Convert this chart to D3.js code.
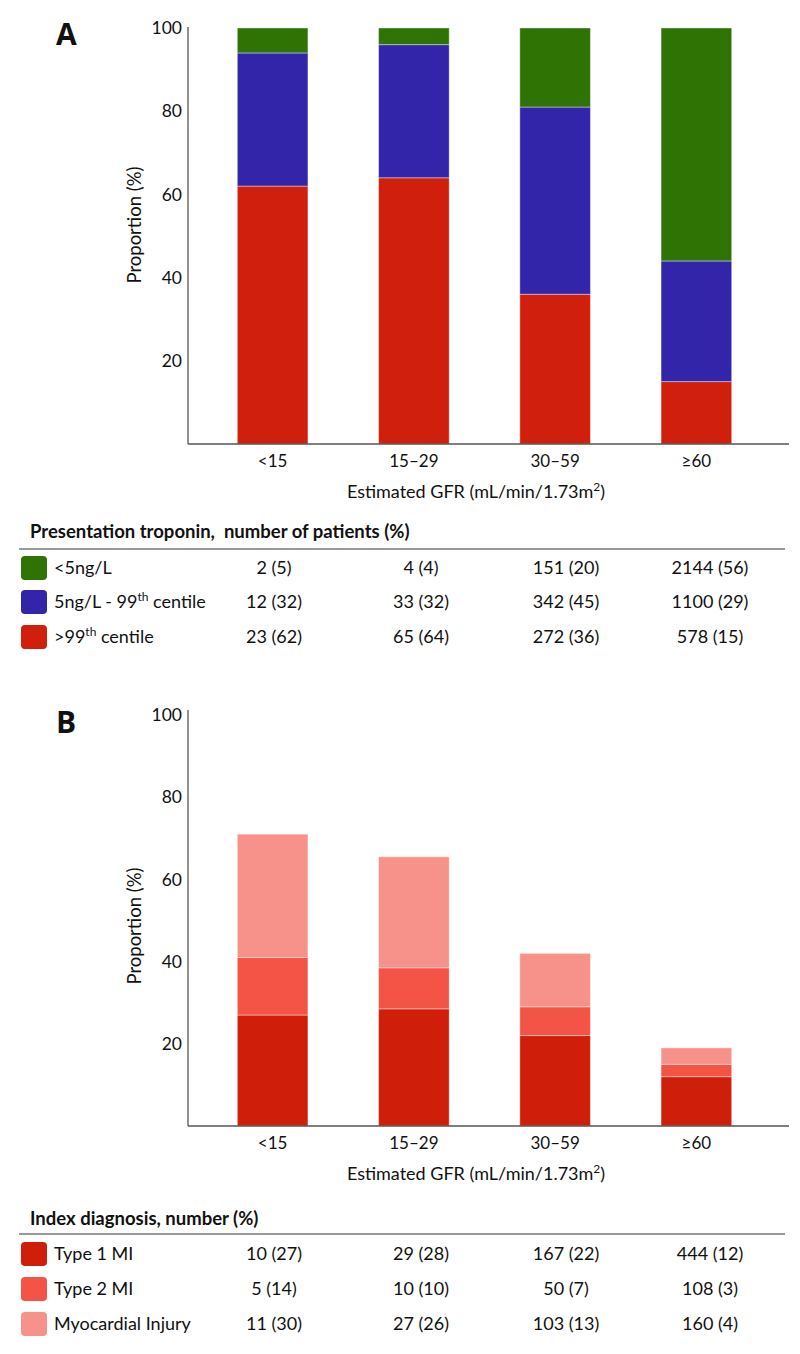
<!DOCTYPE html>
<html><head><meta charset="utf-8">
<script src="https://cdn.jsdelivr.net/npm/d3@7"></script>
<style>
body{margin:0;background:#fff;}
text{font-family:Lato,"Open Sans",sans-serif;fill:#111;}
</style></head>
<body><svg id="c" width="800" height="1354"></svg>
<script>
// ---- data ----
const categories = ["<15", "15–29", "30–59", "≥60"];
// Panel A: presentation troponin (% stacked)
const tropSeries = ["<5ng/L", "5ng/L - 99th centile", ">99th centile"];
const tropAbove99 = [62, 64, 36, 15];
const tropMid = [32, 32, 45, 29];
const tropBelow5 = [6, 4, 19, 56];
const tropTable = [
  ["2 (5)", "4 (4)", "151 (20)", "2144 (56)"],
  ["12 (32)", "33 (32)", "342 (45)", "1100 (29)"],
  ["23 (62)", "65 (64)", "272 (36)", "578 (15)"]
];
// Panel B: index diagnosis (% stacked)
const diagSeries = ["Type 1 MI", "Type 2 MI", "Myocardial Injury"];
const diagType1 = [27, 28.5, 22, 12];
const diagType2 = [14, 10, 7, 3];
const diagInjury = [30, 27, 13, 4];
const diagTable = [
  ["10 (27)", "29 (28)", "167 (22)", "444 (12)"],
  ["5 (14)", "10 (10)", "50 (7)", "108 (3)"],
  ["11 (30)", "27 (26)", "103 (13)", "160 (4)"]
];
const yTicks = [20, 40, 60, 80, 100];

const svg = d3.select("#c");

function panel(opt) {
  const g = svg.append("g");
  const x = d3.scaleBand().domain(categories).range([202, 767]).paddingInner(0.5).paddingOuter(0.25);
  const y = d3.scaleLinear().domain([0, 100]).range([opt.y0, opt.y100]);
  const rows = categories.map((c, i) => {
    const o = {cat: c};
    opt.layers.forEach(l => o[l.key] = l.values[i]);
    return o;
  });
  const stack = d3.stack().keys(opt.layers.map(l => l.key))(rows);
  stack.forEach((s, si) => {
    g.append("g").selectAll("rect").data(s).join("rect")
      .attr("x", d => x(d.data.cat))
      .attr("width", x.bandwidth())
      .attr("y", d => y(d[1]))
      .attr("height", d => y(d[0]) - y(d[1]))
      .attr("fill", opt.layers[si].color)
      .attr("stroke", "rgba(255,255,255,0.4)")
      .attr("stroke-width", 1);
  });
  g.append("line").attr("x1", 188).attr("x2", 188).attr("y1", opt.axisTop).attr("y2", opt.y0)
    .attr("stroke", "#555").attr("stroke-width", 1.3);
  g.append("line").attr("x1", 188).attr("x2", 789).attr("y1", opt.y0).attr("y2", opt.y0)
    .attr("stroke", "#555").attr("stroke-width", 1.3);
  const ya = d3.axisLeft(y).tickValues(yTicks).tickSize(0).tickPadding(6);
  const yg = g.append("g").attr("transform", "translate(188,0)").call(ya);
  yg.select(".domain").remove();
  yg.selectAll("text").style("font-family", "Lato").style("font-size", "17.5px").attr("fill", "#111");
  const xa = d3.axisBottom(x).tickSize(0).tickPadding(11);
  const xg = g.append("g").attr("transform", `translate(0,${opt.y0})`).call(xa);
  xg.select(".domain").remove();
  xg.selectAll("text").style("font-family", "Lato").style("font-size", "17px").attr("fill", "#111");
  const xt = g.append("text").attr("x", 476).attr("y", opt.y0 + 54).attr("text-anchor", "middle")
    .style("font-size", "18px");
  xt.append("tspan").text("Estimated GFR (mL/min/1.73m");
  xt.append("tspan").attr("dy", -7).style("font-size", "12px").text("2");
  xt.append("tspan").attr("dy", 7).text(")");
  g.append("text").attr("transform", `translate(141,${opt.ylabCy}) rotate(-90)`)
    .attr("text-anchor", "middle").style("font-size", "18.5px").text("Proportion (%)");
  g.append("text").attr("x", 56).attr("y", opt.letterY).style("font-size", "30px")
    .style("font-weight", "bold").style("font-family", "Open Sans").text(opt.letter);

  const cols = [274, 421, 566, 710];
  g.append("text").attr("x", 30).attr("y", opt.tTitleY).style("font-size", "18.5px").style("font-weight", "bold")
    .style("white-space", "pre").text(opt.tTitle);
  g.append("line").attr("x1", 19).attr("x2", 785).attr("y1", opt.tLineY).attr("y2", opt.tLineY)
    .attr("stroke", "#777").attr("stroke-width", 1.3);
  opt.tableRows.forEach((r, i) => {
    const cy = opt.rowY[i];
    g.append("rect").attr("x", 21).attr("y", cy - 12).attr("width", 26).attr("height", 24)
      .attr("rx", 4).attr("fill", r.color);
    const t = g.append("text").attr("x", 54).attr("y", cy + 6).style("font-size", "18px");
    r.label.forEach(p => {
      if (p.sup) t.append("tspan").attr("dy", -7).style("font-size", "12px").text(p.t);
      else t.append("tspan").attr("dy", p.after ? 7 : 0).text(p.t);
    });
    r.cells.forEach((c, j) => {
      g.append("text").attr("x", cols[j]).attr("y", cy + 6).attr("text-anchor", "middle")
        .style("font-size", "18px").text(c);
    });
  });
}

const cGreen = "#2f7304", cBlue = "#3325a9", cRed = "#d0200d";
const cT1 = "#cf1f0b", cT2 = "#f35445", cInj = "#f69289";

panel({
  letter: "A", letterY: 45, y0: 444, y100: 28, axisTop: 27, ylabCy: 225,
  layers: [
    {key: "a99", values: tropAbove99, color: cRed},
    {key: "mid", values: tropMid, color: cBlue},
    {key: "lt5", values: tropBelow5, color: cGreen}
  ],
  tTitle: "Presentation troponin,  number of patients (%)", tTitleY: 538, tLineY: 549,
  rowY: [568, 602, 637],
  tableRows: [
    {color: cGreen, label: [{t: tropSeries[0]}], cells: tropTable[0]},
    {color: cBlue, label: [{t: "5ng/L - 99"}, {t: "th", sup: true}, {t: " centile", after: true}], cells: tropTable[1]},
    {color: cRed, label: [{t: ">99"}, {t: "th", sup: true}, {t: " centile", after: true}], cells: tropTable[2]}
  ]
});

panel({
  letter: "B", letterY: 733, y0: 1126, y100: 715, axisTop: 710, ylabCy: 926,
  layers: [
    {key: "t1", values: diagType1, color: cT1},
    {key: "t2", values: diagType2, color: cT2},
    {key: "inj", values: diagInjury, color: cInj}
  ],
  tTitle: "Index diagnosis, number (%)", tTitleY: 1225, tLineY: 1234,
  rowY: [1254, 1289, 1324],
  tableRows: [
    {color: cT1, label: [{t: diagSeries[0]}], cells: diagTable[0]},
    {color: cT2, label: [{t: diagSeries[1]}], cells: diagTable[1]},
    {color: cInj, label: [{t: diagSeries[2]}], cells: diagTable[2]}
  ]
});
</script></body></html>
